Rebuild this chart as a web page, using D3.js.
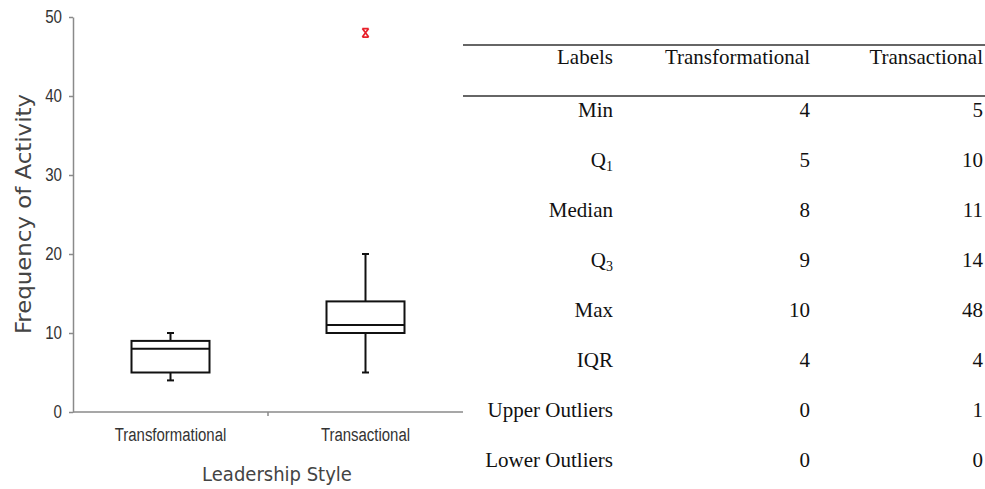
<!DOCTYPE html>
<html>
<head>
<meta charset="utf-8">
<script src="https://cdn.jsdelivr.net/npm/d3@7"></script>
<style>
  body { margin: 0; background: #fff; }
  svg { display: block; }
</style>
</head>
<body>
<svg id="chart" width="985" height="489"></svg>
<script>
// box plot data
const styles = ["Transformational", "Transactional"];
const whiskerLow = [4, 5];
const q1 = [5, 10];
const medians = [8, 11];
const q3 = [9, 14];
const whiskerHigh = [10, 20];
const outliers = [[], [48]];
const yTicks = [0, 10, 20, 30, 40, 50];

// summary table
const tableHeaders = ["Labels", "Transformational", "Transactional"];
const rowLabels = ["Min", "Q1", "Median", "Q3", "Max", "IQR", "Upper Outliers", "Lower Outliers"];
const transformationalCol = [4, 5, 8, 9, 10, 4, 0, 0];
const transactionalCol = [5, 10, 11, 14, 48, 4, 1, 0];

const svg = d3.select("#chart");
const axisColor = "#8a8a8a";
const sans = "'Liberation Sans', Arial, sans-serif";
const labelFont = "'DejaVu Sans Condensed', 'DejaVu Sans', sans-serif";

// squeeze text horizontally, no narrow font installed
function condense(sel, ratio) {
  sel.each(function () {
    const w = this.getComputedTextLength();
    d3.select(this).attr("textLength", w * ratio).attr("lengthAdjust", "spacingAndGlyphs");
  });
}

const x = d3.scaleBand().domain(styles).range([73, 463]);
const y = d3.scaleLinear().domain([0, 50]).range([412, 17]);

// y axis
const yAxis = svg.append("g")
  .attr("transform", "translate(73,0)")
  .call(d3.axisLeft(y).tickValues(yTicks).tickSize(4).tickSizeOuter(0).tickPadding(7));
yAxis.select(".domain").attr("stroke", axisColor).attr("stroke-width", 1.5);
yAxis.selectAll(".tick line").attr("stroke", axisColor).attr("stroke-width", 1.5);
yAxis.selectAll(".tick text")
  .attr("fill", "#333")
  .style("font-family", sans)
  .style("font-size", "18px")
  .call(condense, 0.84);

// x axis: plain baseline with a tick between the groups
svg.append("line")
  .attr("x1", x.range()[0]).attr("x2", x.range()[1])
  .attr("y1", y(0)).attr("y2", y(0))
  .attr("stroke", axisColor).attr("stroke-width", 1.5);
svg.append("line")
  .attr("x1", x(styles[1])).attr("x2", x(styles[1]))
  .attr("y1", y(0)).attr("y2", y(0) + 4)
  .attr("stroke", axisColor).attr("stroke-width", 1.5);

svg.selectAll("text.cat")
  .data(styles)
  .enter().append("text")
  .attr("class", "cat")
  .attr("x", d => x(d) + x.bandwidth() / 2)
  .attr("y", 441)
  .attr("text-anchor", "middle")
  .attr("fill", "#333")
  .style("font-family", sans)
  .style("font-size", "18px")
  .text(d => d)
  .call(condense, 0.83);

// axis titles
svg.append("text")
  .attr("x", 277).attr("y", 481)
  .attr("text-anchor", "middle")
  .attr("fill", "#444")
  .style("font-family", labelFont)
  .style("font-size", "20px")
  .text("Leadership Style");

svg.append("text")
  .attr("transform", "translate(31,214) rotate(-90)")
  .attr("text-anchor", "middle")
  .attr("fill", "#444")
  .style("font-family", labelFont)
  .style("font-size", "21px")
  .attr("textLength", 240)
  .attr("lengthAdjust", "spacingAndGlyphs")
  .text("Frequency of Activity");

// boxes
const boxW = x.bandwidth() * 0.4;
const capW = 7;
const boxes = svg.selectAll("g.box")
  .data(styles.map((s, i) => ({ s, i })))
  .enter().append("g")
  .attr("class", "box")
  .attr("transform", d => `translate(${x(d.s) + x.bandwidth() / 2},0)`);

boxes.append("line") // whisker
  .attr("x1", 0).attr("x2", 0)
  .attr("y1", d => y(whiskerLow[d.i])).attr("y2", d => y(whiskerHigh[d.i]))
  .attr("stroke", "#111").attr("stroke-width", 2);
boxes.append("line") // low cap
  .attr("x1", -capW / 2).attr("x2", capW / 2)
  .attr("y1", d => y(whiskerLow[d.i])).attr("y2", d => y(whiskerLow[d.i]))
  .attr("stroke", "#111").attr("stroke-width", 2);
boxes.append("line") // high cap
  .attr("x1", -capW / 2).attr("x2", capW / 2)
  .attr("y1", d => y(whiskerHigh[d.i])).attr("y2", d => y(whiskerHigh[d.i]))
  .attr("stroke", "#111").attr("stroke-width", 2);
boxes.append("rect")
  .attr("x", -boxW / 2).attr("width", boxW)
  .attr("y", d => y(q3[d.i]))
  .attr("height", d => y(q1[d.i]) - y(q3[d.i]))
  .attr("fill", "#fff")
  .attr("stroke", "#111").attr("stroke-width", 2);
boxes.append("line") // median
  .attr("x1", -boxW / 2).attr("x2", boxW / 2)
  .attr("y1", d => y(medians[d.i])).attr("y2", d => y(medians[d.i]))
  .attr("stroke", "#111").attr("stroke-width", 2);

// outlier marker: an x with little bars top and bottom, a bit taller than wide
const barredX = {
  draw(ctx, size) {
    const r = Math.sqrt(size) / 2;
    const h = r * 1.35;
    ctx.moveTo(-r, -h); ctx.lineTo(r, h);
    ctx.moveTo(r, -h); ctx.lineTo(-r, h);
    ctx.moveTo(-r, -h); ctx.lineTo(r, -h);
    ctx.moveTo(-r, h); ctx.lineTo(r, h);
  }
};
boxes.selectAll("path.out")
  .data(d => outliers[d.i])
  .enter().append("path")
  .attr("class", "out")
  .attr("transform", v => `translate(0,${y(v)})`)
  .attr("d", d3.symbol(barredX, 40))
  .attr("stroke", "#e8202a").attr("stroke-width", 1.7)
  .attr("fill", "none");

// table
const serif = "'Liberation Serif', 'Times New Roman', serif";
const colRight = [613, 810, 983];
const rowY = d3.scalePoint().domain(rowLabels).range([117, 467]);

svg.append("line")
  .attr("x1", 463).attr("x2", 985).attr("y1", 45).attr("y2", 45)
  .attr("stroke", "#333").attr("stroke-width", 1.5);
svg.append("line")
  .attr("x1", 463).attr("x2", 985).attr("y1", 96).attr("y2", 96)
  .attr("stroke", "#333").attr("stroke-width", 1.5);

svg.selectAll("text.head")
  .data(tableHeaders)
  .enter().append("text")
  .attr("class", "head")
  .attr("x", (d, i) => colRight[i])
  .attr("y", 64)
  .attr("text-anchor", "end")
  .attr("fill", "#111")
  .style("font-family", serif)
  .style("font-size", "21px")
  .text(d => d);

const rows = svg.selectAll("g.row")
  .data(rowLabels.map((r, i) => ({ r, i })))
  .enter().append("g")
  .attr("class", "row")
  .attr("transform", d => `translate(0,${rowY(d.r)})`)
  .style("font-family", serif)
  .style("font-size", "21px")
  .attr("fill", "#111");

rows.append("text")
  .attr("x", colRight[0])
  .attr("text-anchor", "end")
  .each(function (d) {
    const t = d3.select(this);
    const m = d.r.match(/^Q(\d)$/);
    if (m) {
      t.append("tspan").text("Q");
      t.append("tspan").attr("dy", 4).style("font-size", "14px").text(m[1]);
    } else {
      t.text(d.r);
    }
  });
rows.append("text")
  .attr("x", colRight[1])
  .attr("text-anchor", "end")
  .text(d => transformationalCol[d.i]);
rows.append("text")
  .attr("x", colRight[2])
  .attr("text-anchor", "end")
  .text(d => transactionalCol[d.i]);
</script>
</body>
</html>
